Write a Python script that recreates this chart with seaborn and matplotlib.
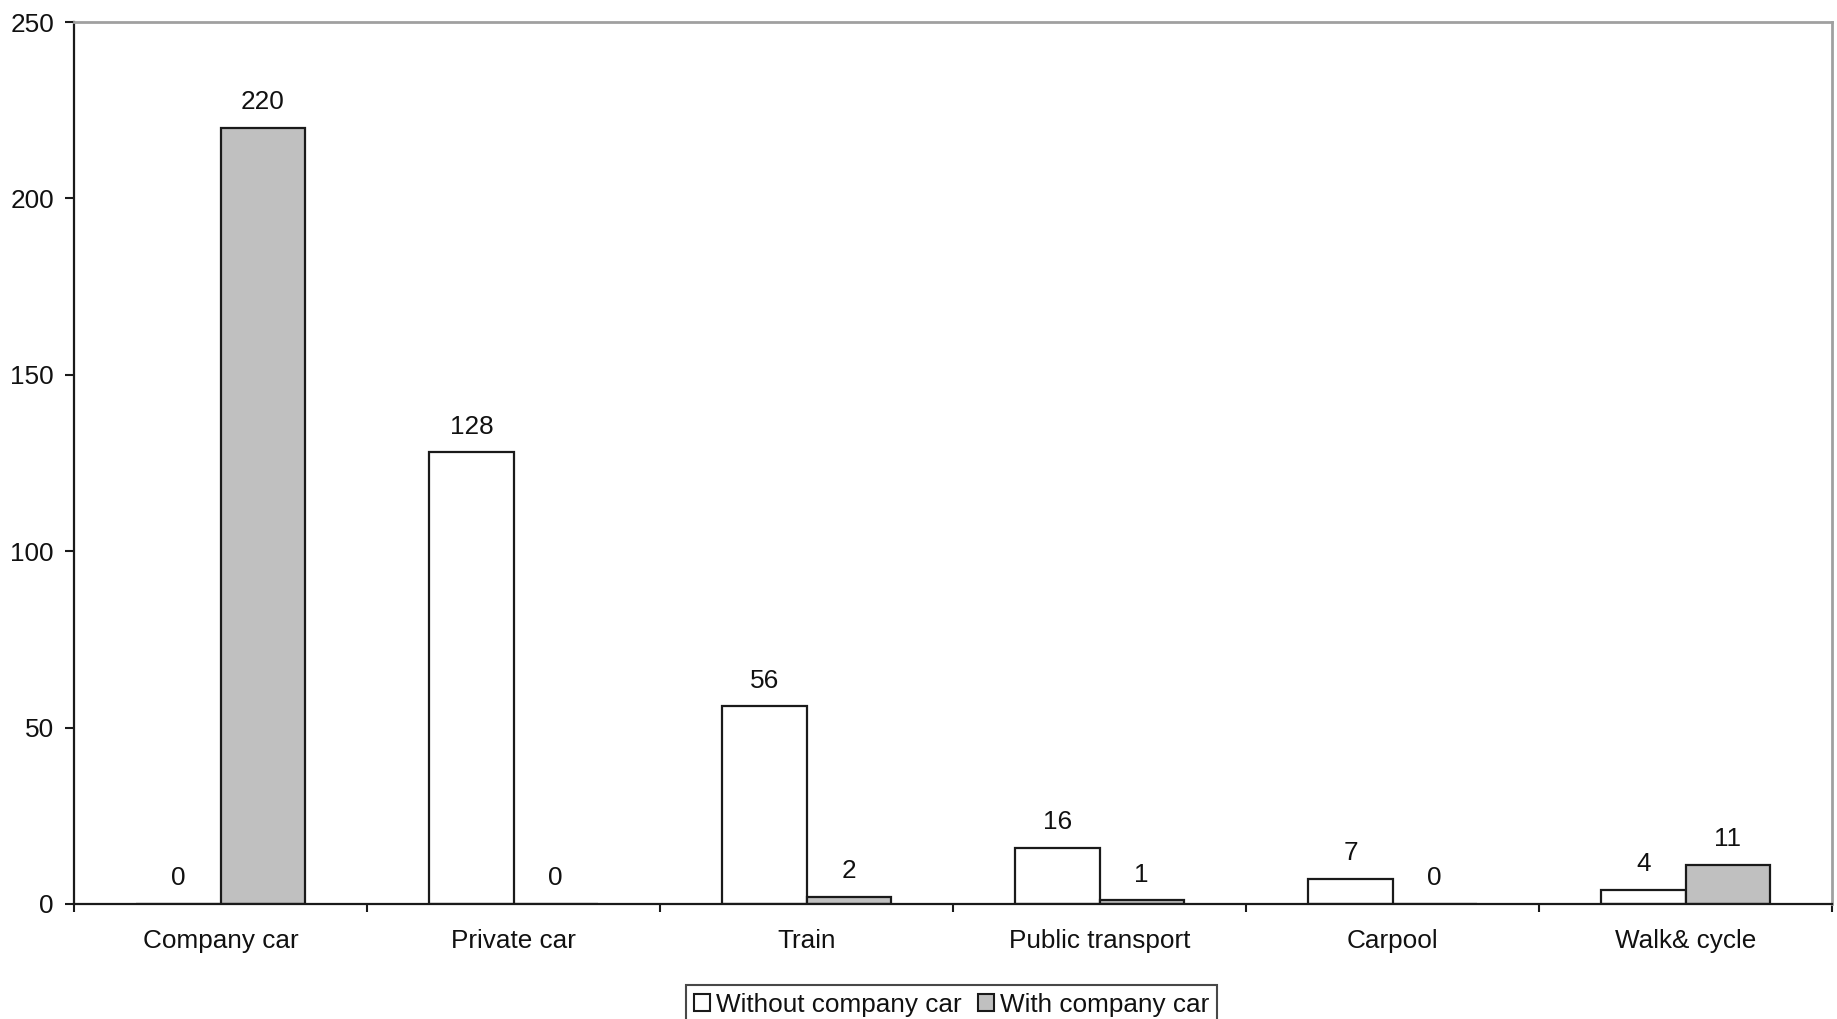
import matplotlib
matplotlib.use("Agg")
import matplotlib.pyplot as plt
import seaborn as sns
import pandas as pd
from matplotlib.ticker import FixedLocator

# Commuting mode counts by company-car status
categories = ["Company car", "Private car", "Train", "Public transport", "Carpool", "Walk& cycle"]
without_company_car = [0, 128, 56, 16, 7, 4]
with_company_car = [220, 0, 2, 1, 0, 11]
series_names = ["Without company car", "With company car"]
y_ticks = [0, 50, 100, 150, 200, 250]

df = pd.DataFrame({
    "mode": categories * 2,
    "count": without_company_car + with_company_car,
    "group": [series_names[0]] * len(categories) + [series_names[1]] * len(categories),
})

FS = 18.8

sns.set_theme(style="white")
plt.rcParams["font.family"] = ["Liberation Sans", "DejaVu Sans"]
plt.rcParams["text.color"] = "#111111"
plt.rcParams["axes.labelcolor"] = "#111111"
plt.rcParams["xtick.color"] = "#111111"
plt.rcParams["ytick.color"] = "#111111"

fig = plt.figure(figsize=(18.37, 10.19), dpi=100)
ax = fig.add_axes([0.0403, 0.1129, 0.957, 0.8655])

sns.barplot(
    data=df, x="mode", y="count", hue="group", order=categories, hue_order=series_names,
    palette={series_names[0]: "white", series_names[1]: "#c0c0c0"},
    edgecolor="#1a1a1a", linewidth=1.6, width=0.574, gap=0, ax=ax, saturation=1,
)

for cont in ax.containers:
    ax.bar_label(cont, fmt="%d", padding=10, fontsize=FS, color="#111111")

ax.set_xlim(-0.5, len(categories) - 0.5)
ax.set_ylim(0, 250)
ax.set_yticks(y_ticks)
ax.set_xlabel("")
ax.set_ylabel("")

# Category labels centred, tick marks at the category boundaries
ax.tick_params(axis="x", which="major", length=0, pad=18, labelsize=FS)
ax.xaxis.set_minor_locator(FixedLocator([i - 0.5 for i in range(len(categories) + 1)]))
ax.tick_params(axis="x", which="minor", bottom=True, direction="out", length=6, width=1.5, color="#1a1a1a")
ax.tick_params(axis="y", which="major", left=True, direction="out", length=6.5, width=1.5,
               pad=8, labelsize=FS, color="#1a1a1a")

for side in ["left", "bottom"]:
    ax.spines[side].set_color("#1a1a1a")
    ax.spines[side].set_linewidth(1.6)
for side in ["top", "right"]:
    ax.spines[side].set_visible(True)
    ax.spines[side].set_color("#a0a0a0")
    ax.spines[side].set_linewidth(2)

handles, labels = ax.get_legend_handles_labels()
if ax.legend_ is not None:
    ax.legend_.remove()
leg = fig.legend(
    handles, labels, loc="upper center", bbox_to_anchor=(0.518, 0.0334), ncol=2,
    fontsize=FS, frameon=True, fancybox=False, shadow=False,
    handlelength=0.6, handleheight=0.6, handletextpad=0.22, columnspacing=0.65,
    borderpad=0.3, borderaxespad=0,
)
leg.get_frame().set_edgecolor("#1a1a1a")
leg.get_frame().set_linewidth(1.5)
for h in leg.legend_handles:
    h.set_edgecolor("#1a1a1a")
    h.set_linewidth(1.5)

fig.savefig("out.png", dpi=100)
